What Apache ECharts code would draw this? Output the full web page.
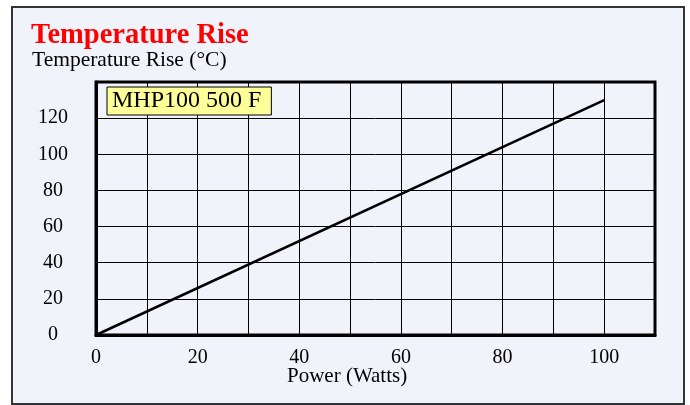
<!DOCTYPE html>
<html>
<head>
<meta charset="utf-8">
<script src="https://cdn.jsdelivr.net/npm/echarts@6/dist/echarts.min.js"></script>
<style>
  html, body { margin: 0; padding: 0; background: #fff; }
  #chart { width: 690px; height: 405px; }
</style>
</head>
<body>
<div id="chart"></div>
<script>
// power in watts and the matching temperature rise
var power = [0, 100];
var tempRise = [0, 130];
var seriesName = 'MHP100 500 F';
var xTicks = [0, 20, 40, 60, 80, 100];
var yTicks = [0, 20, 40, 60, 80, 100, 120];

var serif = "'Liberation Serif', 'Times New Roman', serif";

var chart = echarts.init(document.getElementById('chart'));

var option = {
  backgroundColor: '#ffffff',
  animation: false,
  graphic: [
    {
      type: 'rect',
      z: -10,
      shape: { x: 12, y: 7, width: 672, height: 397 },
      style: { fill: '#f0f4fa', stroke: '#333', lineWidth: 2 }
    },
    {
      type: 'text',
      left: 287,
      top: 366,
      style: { text: 'Power (Watts)', font: '21px ' + serif, fill: '#000' }
    }
  ],
  title: [
    {
      text: 'Temperature Rise',
      left: 31,
      top: 21,
      padding: 0,
      textStyle: { color: '#ff0000', fontSize: 28.5, fontWeight: 'bold', fontFamily: serif }
    },
    {
      text: 'Temperature Rise (°C)',
      left: 32,
      top: 49,
      padding: 0,
      textStyle: { color: '#000', fontSize: 21.5, fontWeight: 'normal', fontFamily: serif }
    }
  ],
  legend: {
    left: 107,
    top: 87,
    icon: 'none',
    itemWidth: 0,
    padding: [2, 10, 2, 0],
    backgroundColor: '#ffff99',
    borderColor: '#000',
    borderWidth: 1,
    textStyle: { color: '#000', fontSize: 24, fontFamily: serif },
    data: [seriesName]
  },
  grid: {
    left: 96,
    top: 82,
    right: 35,
    bottom: 70,
    show: true,
    borderColor: '#000',
    borderWidth: 3
  },
  xAxis: {
    type: 'value',
    min: 0,
    max: 110,
    interval: 10,
    axisLine: { show: true, lineStyle: { color: '#000', width: 3 } },
    axisTick: { show: false },
    splitLine: { show: true, lineStyle: { color: '#000', width: 1 } },
    axisLabel: {
      margin: 13,
      color: '#000',
      fontSize: 20,
      fontFamily: serif,
      formatter: function (v) { return xTicks.indexOf(v) >= 0 ? String(v) : ''; }
    }
  },
  yAxis: {
    type: 'value',
    min: 0,
    max: 140,
    interval: 20,
    axisLine: { show: true, lineStyle: { color: '#000', width: 3 } },
    axisTick: { show: false },
    splitLine: { show: true, lineStyle: { color: '#000', width: 1 } },
    axisLabel: {
      margin: 43,
      align: 'center',
      color: '#000',
      fontSize: 20,
      fontFamily: serif,
      formatter: function (v) { return yTicks.indexOf(v) >= 0 ? String(v) : ''; }
    }
  },
  series: [
    {
      name: seriesName,
      type: 'line',
      showSymbol: false,
      data: power.map(function (p, i) { return [p, tempRise[i]]; }),
      lineStyle: { color: '#000', width: 2.5 },
      itemStyle: { color: '#000' }
    }
  ]
};

chart.setOption(option);
</script>
</body>
</html>
